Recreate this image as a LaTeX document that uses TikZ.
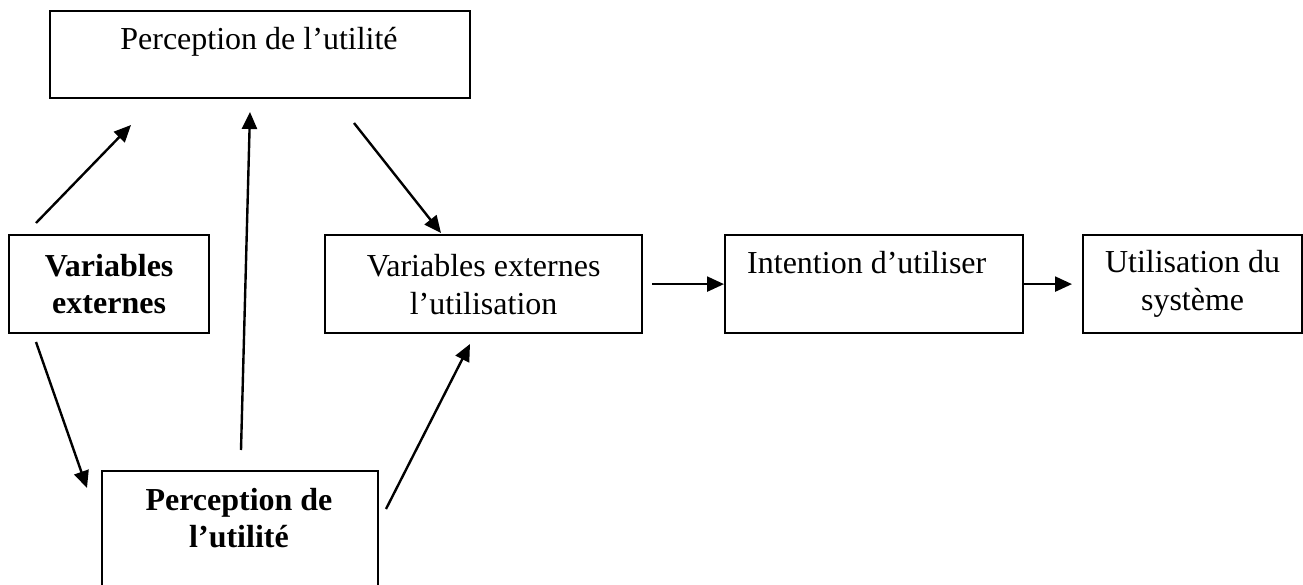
\documentclass[tikz,border=0pt]{standalone}
\usepackage{fontspec}
\setmainfont{Liberation Serif}
\usetikzlibrary{arrows.meta}
\begin{document}
\begin{tikzpicture}[x=1pt,y=-1pt,
  box/.style={draw,line width=2.2pt,inner sep=0pt,anchor=north west},
  txt/.style={font=\fontsize{32}{38}\selectfont,align=center,inner sep=0pt},
  btxt/.style={txt,font=\fontsize{32}{37}\selectfont\bfseries},
  arr/.style={line width=2.4pt,-{Triangle[length=17pt,width=15pt]}}]
\useasboundingbox (0,0) rectangle (1303,585);
% boxes
\node[box,minimum width=420pt,minimum height=87pt] (pu) at (49,10) {};
\node[box,minimum width=200pt,minimum height=98pt] (ve) at (8,234) {};
\node[box,minimum width=276pt,minimum height=125pt] (pb) at (101,470) {};
\node[box,minimum width=317pt,minimum height=98pt] (vu) at (324,234) {};
\node[box,minimum width=298pt,minimum height=98pt] (iu) at (724,234) {};
\node[box,minimum width=219pt,minimum height=98pt] (us) at (1082,234) {};
% texts
\node[txt,anchor=base] (tpu) at (259,50) {Perception de l’utilité};
\node[btxt] (tve) at (ve.center) {Variables\\externes};
\node[btxt,anchor=base] (tpb) at (239,547) {Perception de\\l’utilité};
\node[txt] (tvu) at (vu.center) {Variables externes\\l’utilisation};
\node[txt,anchor=base west] (tiu) at (747,273) {Intention d’utiliser};
\node[txt] (tus) at (us.center) {Utilisation du\\système};
% free ends of the diagonal connectors
\coordinate (a1s) at (36,223);  \coordinate (a1e) at (131,125);
\coordinate (a2s) at (241,450); \coordinate (a2e) at (250,112);
\coordinate (a3s) at (354,123); \coordinate (a3e) at (441,233);
\coordinate (a4s) at (36,342);  \coordinate (a4e) at (87,488);
\coordinate (a5s) at (386,509); \coordinate (a5e) at (470,344);
% connectors
\draw[arr] (a1s) -- (a1e);
\draw[arr] (a2s) -- (a2e);
\draw[arr] (a3s) -- (a3e);
\draw[arr] (a4s) -- (a4e);
\draw[arr] (a5s) -- (a5e);
\draw[arr,shorten <=9pt] (vu.east) -- (iu.west);
\draw[arr,shorten >=10pt] (iu.east) -- (us.west);
\end{tikzpicture}
\end{document}
